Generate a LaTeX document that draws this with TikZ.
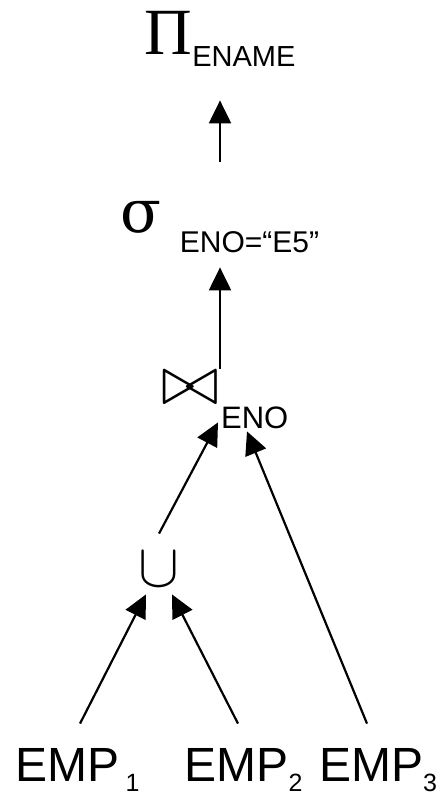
\documentclass[tikz,border=0pt]{standalone}
\usepackage{fontspec}
\setmainfont{Liberation Sans}
\newfontfamily\greekfont{Liberation Serif}
\newfontfamily\sigmafont{DejaVu Serif}
\usetikzlibrary{arrows.meta, positioning, calc}

\begin{document}
\begin{tikzpicture}[x=0.5pt, y=-0.5pt]
    \tikzstyle{op} = [inner sep=0pt, anchor=base]
    \tikzstyle{rel} = [inner sep=0pt, anchor=base, text height=28.5pt, text depth=5pt, font=\fontsize{24}{28}\selectfont]
    \tikzstyle{arrow} = [-{Triangle[length=11.5pt, width=11pt]}, line width=1.1pt]
    \useasboundingbox (0,0) rectangle (437,795);

    % Operators
    \node (proj) [op, text height=24pt, text depth=22.5pt] at (220,55) {{\greekfont\fontsize{33}{33}\selectfont Π}\raisebox{-6pt}{\fontsize{14.5}{15}\selectfont ENAME}};
    \node (sel) [op, text height=35.5pt, text depth=17pt] at (220,233) {{\sigmafont\fontsize{30}{30}\selectfont σ}\hspace{9pt}\raisebox{-10pt}{\fontsize{15}{15}\selectfont ENO=“E5”}};
    \node (join) [op, text height=17.5pt, text depth=13.5pt] at (225,404) {\scalebox{1.42}{\fontsize{27}{27}\selectfont$\bowtie$}\hspace{1pt}\raisebox{-12pt}{\fontsize{15.5}{15}\selectfont ENO}};
    \node (uni) [op, text height=26pt, text depth=4pt] at (159,586) {\scalebox{1.23}{\fontsize{30}{30}\selectfont$\cup$}};

    % Relations
    \node (emp1) [rel] at (77.5,781) {EMP\hspace{3pt}\raisebox{-5pt}{\fontsize{12.5}{13}\selectfont 1}};
    \node (emp2) [rel] at (243.5,781) {EMP\raisebox{-5pt}{\fontsize{12.5}{13}\selectfont 2}};
    \node (emp3) [rel] at (378,781) {EMP\raisebox{-5pt}{\fontsize{12.5}{13}\selectfont 3}};

    % Arrows
    \draw [arrow] (sel.north) -- (proj.south);
    \draw [arrow] ($(join.north)+(-5,0)$) -- (sel.south);
    \draw [arrow] (uni.north) -- ($(join.south)+(-7,-9)$);
    \draw [arrow] ($(emp3.north)+(-11,0)$) -- ($(join.south)+(22,0)$);
    \draw [arrow] ($(emp1.north)+(2.5,0)$) -- ($(uni.south)+(-13,0)$);
    \draw [arrow] ($(emp2.north)+(-5.5,0)$) -- ($(uni.south)+(13,0)$);
\end{tikzpicture}
\end{document}
